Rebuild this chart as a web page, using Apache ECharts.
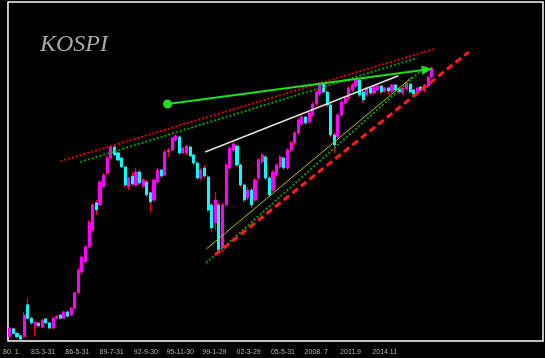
<!DOCTYPE html>
<html><head><meta charset="utf-8">
<script src="https://cdn.jsdelivr.net/npm/echarts@6/dist/echarts.min.js"></script>
<style>html,body{margin:0;padding:0;background:#000}#c{width:545px;height:358px}</style>
</head><body><div id="c"></div>
<script>
// x-axis tick labels and the dates they mark (decimal years)
const tickDates = [1980.35, 1983.25, 1986.42, 1989.58, 1992.75, 1995.92, 1999.08, 2002.25, 2005.42, 2008.5, 2011.67, 2014.83];
const tickLabels = ['80. 1.', '83-3-31', '86-5-31', '89-7-31', '92-9-30', '95-11-30', '99-1-29', '02-3-29', '05-5-31', '2008. 7', '2011.9', '2014.11'];

// candles: one per 4-month period, starting at firstPeriod
const firstPeriod = 1980.17;
const periodStep = 1 / 3;
const open = [98,108,102,99,98,145,123,113,116,110,
  122,116,109,123,128,123,133,128,139,168,
  217,246,296,364,509,496,619,735,885,1013,
  941,885,792,619,708,634,744,626,658,576,
  527,658,763,717,953,976,1104,1146,941,941,
  1013,918,831,691,782,700,496,400,496,292,
  496,782,976,1025,811,634,541,596,527,691,
  842,896,691,596,717,792,885,782,976,1065,
  1204,1344,1465,1378,1501,1719,1944,2199,1993,1698,
  1174,1146,1501,1740,1851,2042,2146,2310,1993,1920,
  2094,1968,2042,2146,2018,2094,2018,2172,2068,1968,
  2068,2199,2042,1968,2120,2042,2146,2397];
const close = [109,102,98,95,128,123,116,117,112,120,
  116,109,123,126,123,133,126,139,168,223,
  261,296,400,496,466,658,717,885,1013,918,
  863,792,634,691,642,744,650,674,561,515,
  674,763,708,953,976,1132,1160,941,1000,1025,
  907,831,691,763,708,466,374,527,285,496,
  811,1000,1051,811,634,527,596,496,674,863,
  918,691,561,744,811,896,782,976,1065,1204,
  1412,1465,1361,1538,1719,1993,2199,1993,1698,1174,
  1038,1501,1762,1851,2094,2172,2310,1920,1806,2094,
  1968,2120,2146,1993,2094,2018,2172,2042,1993,2094,
  2227,1993,1944,2094,2042,2172,2397,2678];
const low = [96,101,96,94,96,120,113,98,110,109,
  114,108,108,122,122,122,125,126,138,166,
  209,243,292,356,438,490,612,717,874,907,
  853,782,619,596,626,626,634,612,548,455,
  515,650,691,708,896,964,1078,918,930,918,
  896,811,674,674,691,455,356,364,271,278,
  484,763,953,792,619,509,527,478,515,674,
  821,674,548,583,700,772,763,763,953,1038,
  1174,1312,1327,1344,1465,1677,1896,1944,1657,1146,
  941,1104,1465,1698,1806,1993,2094,1873,1740,1873,
  1920,1920,1993,1944,1968,1920,1968,1993,1944,1920,
  2018,1944,1873,1920,1993,1993,2094,2338];
const high = [110,109,104,100,133,158,126,119,117,122,
  123,117,125,128,129,134,134,141,170,228,
  268,303,412,509,527,674,735,907,1038,1025,
  953,896,801,700,744,782,763,691,674,583,
  691,782,772,976,1000,1146,1189,1160,1013,1038,
  1025,930,842,782,811,717,509,583,509,509,
  831,1025,1078,1038,831,650,619,612,691,885,
  941,918,708,763,831,918,896,1000,1091,1232,
  1447,1501,1483,1576,1762,2042,2254,2227,2018,1740,
  1204,1538,1806,1896,2146,2227,2367,2338,2042,2120,
  2120,2146,2172,2172,2120,2120,2199,2199,2094,2120,
  2254,2227,2068,2120,2146,2199,2427,2712];

// trend lines: [date, index level] end points
const upperRedDotted = [[1984.85, 850], [2019.39, 3383]];
const upperGreenDotted = [[1986.69, 842], [2017.83, 3029]];
const whiteLine = [[1998.23, 952], [2016.09, 2436]];
const yellowLine = [[1998.32, 288], [2017.37, 2398]];
const lowerGreenDotted = [[1998.32, 243], [2018.66, 2745]];
const redDashed = [[1999.14, 268], [2022.59, 3262]];
const greenArrow = [[1994.75, 1719], [2018.75, 2630]];

const full = open.map((o, i) => [firstPeriod + i * periodStep, o, close[i], low[i], high[i]]);
const bodies = open.map((o, i) => [firstPeriod + i * periodStep, o, close[i], Math.min(o, close[i]), Math.max(o, close[i])]);

function trend(data, color, width, type, z) {
  return { type: 'line', data: data, showSymbol: false, silent: true, z: z || 5,
    lineStyle: { color: color, width: width, type: type }, animation: false };
}

const chart = echarts.init(document.getElementById('c'), null, { renderer: 'canvas' });
chart.setOption({
  backgroundColor: '#000',
  animation: false,
  title: { text: 'KOSPI', left: 35, top: 28,
    textStyle: { fontFamily: 'Liberation Serif', fontStyle: 'italic', fontWeight: 'normal', fontSize: 24, color: '#a9a9a9' } },
  grid: { left: 3, right: 2, top: 2, bottom: 17, show: true, borderColor: '#ffffff', borderWidth: 1.5, backgroundColor: '#000' },
  xAxis: { type: 'value', min: 1980, max: 2029.46, splitLine: { show: false },
    axisLine: { show: false }, axisTick: { show: false },
    axisLabel: { customValues: tickDates, margin: 8, fontSize: 7, color: '#b4b4b4', fontFamily: 'Liberation Sans',
      formatter: v => { const k = tickDates.findIndex(d => Math.abs(d - v) < 1e-6); return k >= 0 ? tickLabels[k] : ''; } } },
  yAxis: { type: 'log', min: 92.9, max: 6036, show: false, splitLine: { show: false } },
  series: [
    { type: 'candlestick', data: full, encode: { x: 0, y: [1, 2, 3, 4] }, barWidth: 1, silent: true, z: 2,
      itemStyle: { color: '#ff0000', color0: '#ff0000', borderColor: '#ff0000', borderColor0: '#ff0000', borderWidth: 1.2 } },
    { type: 'candlestick', data: bodies, encode: { x: 0, y: [1, 2, 3, 4] }, barWidth: 2.6, silent: true, z: 3,
      itemStyle: { color: '#ff00ff', color0: '#00ffff', borderColor: '#ff00ff', borderColor0: '#00ffff', borderWidth: 1 } },
    trend(upperRedDotted, '#e00000', 2, [2, 2], 4),
    trend(upperGreenDotted, '#00a000', 2, [2, 2], 4),
    trend(lowerGreenDotted, '#00a000', 2, [2, 2], 4),
    trend(yellowLine, '#bebe00', 1, 'solid', 4),
    trend(redDashed, '#ff1a1a', 3, [7, 4], 4),
    trend(whiteLine, '#e0e0e0', 1.5, 'solid', 6),
    { type: 'line', data: [], silent: true, z: 7,
      markLine: { silent: true, symbol: ['circle', 'triangle'], symbolSize: [9, 11], animation: false,
        label: { show: false }, lineStyle: { color: '#22dd22', width: 2, type: 'solid' },
        itemStyle: { color: '#22dd22' },
        data: [[{ coord: greenArrow[0] }, { coord: greenArrow[1] }]] } }
  ]
});
</script></body></html>
